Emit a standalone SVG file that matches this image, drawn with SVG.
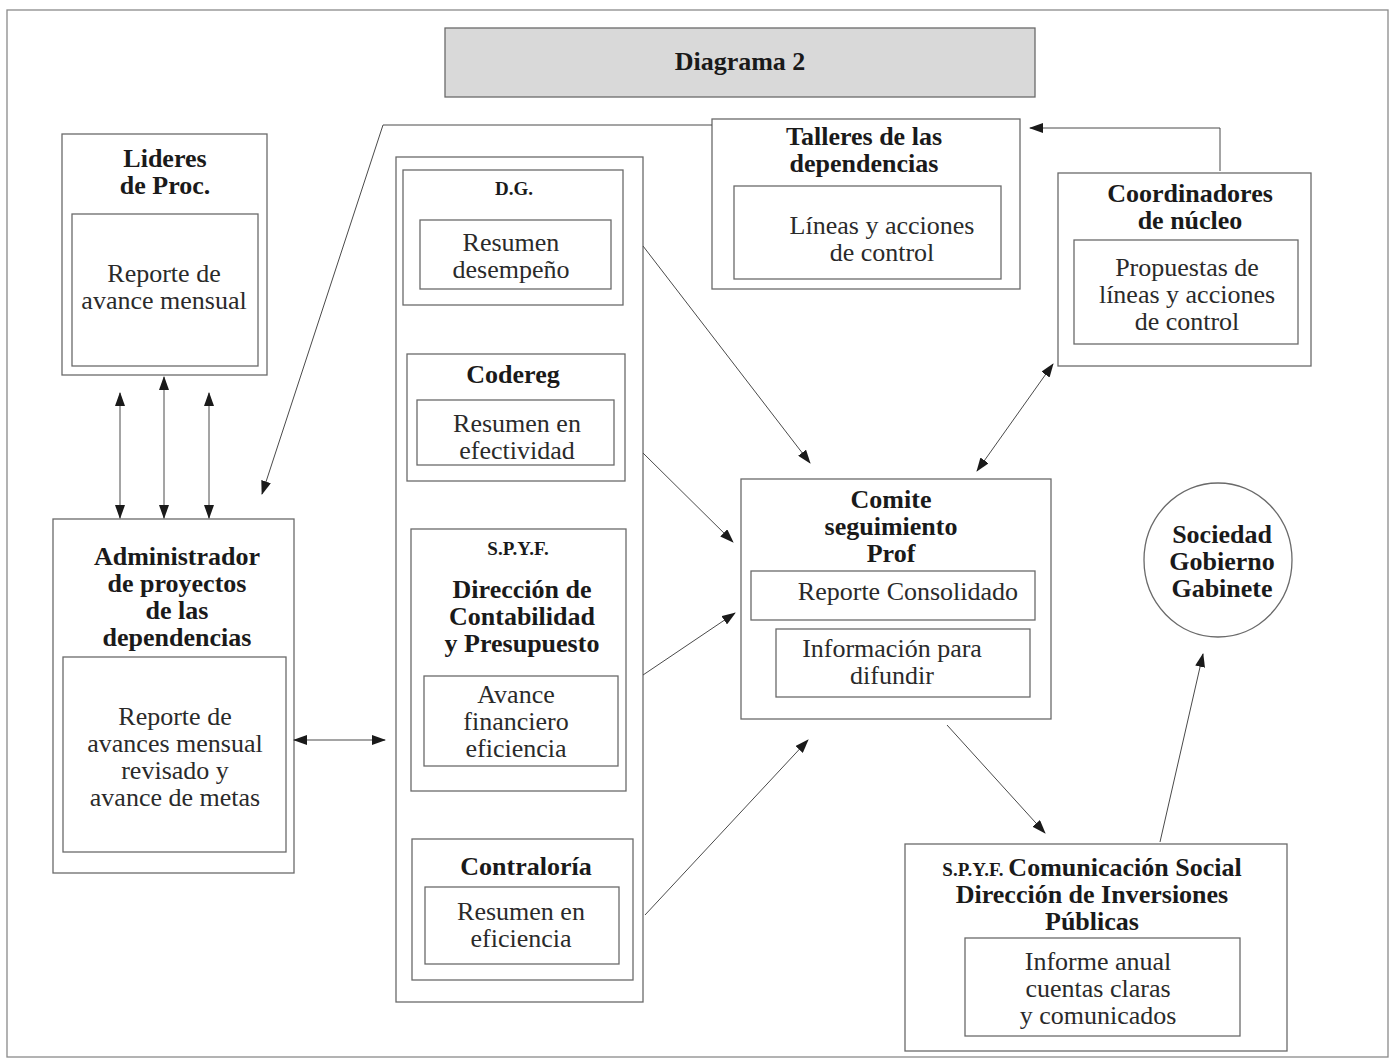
<svg xmlns="http://www.w3.org/2000/svg" width="1392" height="1062" viewBox="0 0 1392 1062">
<defs>
<marker id="ah" markerWidth="14" markerHeight="10" refX="13" refY="5" orient="auto-start-reverse" markerUnits="userSpaceOnUse">
<path d="M0,0 L14,5 L0,10 z" fill="#1a1a1a"/>
</marker>
<style>
.box{fill:none;stroke:#6a6a6a;stroke-width:1.3}
.t{font-family:"Liberation Serif","Times New Roman",serif;font-size:26px;fill:#2a2a2a;text-anchor:middle}
.b{font-family:"Liberation Serif","Times New Roman",serif;font-size:26px;font-weight:bold;fill:#1a1a1a;text-anchor:middle}
.s{font-family:"Liberation Serif","Times New Roman",serif;font-size:19px;font-weight:bold;fill:#1a1a1a;text-anchor:middle}
.c{fill:none;stroke:#4a4a4a;stroke-width:1}
</style>
</defs>
<rect x="0" y="0" width="1392" height="1062" fill="#ffffff"/>
<rect x="7" y="10" width="1381" height="1047" fill="none" stroke="#8a8a8a" stroke-width="1.3"/>

<g id="title">
<rect x="445" y="28" width="590" height="69" fill="#d9d9d9" stroke="#6a6a6a" stroke-width="1.3"/>
<text class="b" x="740" y="70">Diagrama 2</text>
</g>

<g id="lideres">
<rect class="box" x="62" y="134" width="205" height="241"/>
<rect class="box" x="72" y="214" width="186" height="152"/>
<text class="b" x="165" y="167">Lideres</text>
<text class="b" x="165" y="194">de Proc.</text>
<text class="t" x="164" y="282">Reporte de</text>
<text class="t" x="164" y="309">avance mensual</text>
</g>

<g id="administrador">
<rect class="box" x="53" y="519" width="241" height="354"/>
<rect class="box" x="63" y="657" width="223" height="195"/>
<text class="b" x="177" y="565">Administrador</text>
<text class="b" x="177" y="592">de proyectos</text>
<text class="b" x="177" y="619">de las</text>
<text class="b" x="177" y="646">dependencias</text>
<text class="t" x="175" y="725">Reporte de</text>
<text class="t" x="175" y="752">avances mensual</text>
<text class="t" x="175" y="779">revisado y</text>
<text class="t" x="175" y="806">avance de metas</text>
</g>

<g id="columna">
<rect class="box" x="396" y="157" width="247" height="845"/>
</g>

<g id="dg">
<rect class="box" x="403" y="170" width="220" height="135"/>
<rect class="box" x="420" y="220" width="191" height="69"/>
<text class="s" x="514" y="195">D.G.</text>
<text class="t" x="511" y="251">Resumen</text>
<text class="t" x="511" y="278">desempeño</text>
</g>

<g id="codereg">
<rect class="box" x="407" y="354" width="218" height="127"/>
<rect class="box" x="417" y="400" width="197" height="65"/>
<text class="b" x="513" y="383">Codereg</text>
<text class="t" x="517" y="432">Resumen en</text>
<text class="t" x="517" y="459">efectividad</text>
</g>

<g id="spyf-contabilidad">
<rect class="box" x="411" y="529" width="215" height="262"/>
<rect class="box" x="424" y="676" width="194" height="90"/>
<text class="s" x="518" y="555">S.P.Y.F.</text>
<text class="b" x="522" y="598">Dirección de</text>
<text class="b" x="522" y="625">Contabilidad</text>
<text class="b" x="522" y="652">y Presupuesto</text>
<text class="t" x="516" y="703">Avance</text>
<text class="t" x="516" y="730">financiero</text>
<text class="t" x="516" y="757">eficiencia</text>
</g>

<g id="contraloria">
<rect class="box" x="412" y="839" width="221" height="141"/>
<rect class="box" x="425" y="887" width="194" height="77"/>
<text class="b" x="526" y="875">Contraloría</text>
<text class="t" x="521" y="920">Resumen en</text>
<text class="t" x="521" y="947">eficiencia</text>
</g>

<g id="talleres">
<rect class="box" x="712" y="119" width="308" height="170"/>
<rect class="box" x="734" y="186" width="267" height="93"/>
<text class="b" x="864" y="145">Talleres de las</text>
<text class="b" x="864" y="172">dependencias</text>
<text class="t" x="882" y="234">Líneas y acciones</text>
<text class="t" x="882" y="261">de control</text>
</g>

<g id="coordinadores">
<rect class="box" x="1058" y="173" width="253" height="193"/>
<rect class="box" x="1074" y="240" width="224" height="104"/>
<text class="b" x="1190" y="202">Coordinadores</text>
<text class="b" x="1190" y="229">de núcleo</text>
<text class="t" x="1187" y="276">Propuestas de</text>
<text class="t" x="1187" y="303">líneas y acciones</text>
<text class="t" x="1187" y="330">de control</text>
</g>

<g id="comite">
<rect class="box" x="741" y="479" width="310" height="240"/>
<rect class="box" x="751" y="571" width="284" height="49"/>
<rect class="box" x="776" y="629" width="254" height="68"/>
<text class="b" x="891" y="508">Comite</text>
<text class="b" x="891" y="535">seguimiento</text>
<text class="b" x="891" y="562">Prof</text>
<text class="t" x="908" y="600">Reporte Consolidado</text>
<text class="t" x="892" y="657">Información para</text>
<text class="t" x="892" y="684">difundir</text>
</g>

<g id="sociedad">
<ellipse cx="1218" cy="560" rx="74" ry="77" fill="none" stroke="#6a6a6a" stroke-width="1.3"/>
<text class="b" x="1222" y="543">Sociedad</text>
<text class="b" x="1222" y="570">Gobierno</text>
<text class="b" x="1222" y="597">Gabinete</text>
</g>

<g id="spyf-comunicacion">
<rect class="box" x="905" y="844" width="382" height="207"/>
<rect class="box" x="965" y="938" width="275" height="98"/>
<text class="b" x="1092" y="876"><tspan style="font-size:19px">S.P.Y.F. </tspan>Comunicación Social</text>
<text class="b" x="1092" y="903">Dirección de Inversiones</text>
<text class="b" x="1092" y="930">Públicas</text>
<text class="t" x="1098" y="970">Informe anual</text>
<text class="t" x="1098" y="997">cuentas claras</text>
<text class="t" x="1098" y="1024">y comunicados</text>
</g>

<g id="connectors">
<line class="c" x1="120" y1="393" x2="120" y2="518" marker-start="url(#ah)" marker-end="url(#ah)"/>
<line class="c" x1="164" y1="377" x2="164" y2="518" marker-start="url(#ah)" marker-end="url(#ah)"/>
<line class="c" x1="209" y1="393" x2="209" y2="518" marker-start="url(#ah)" marker-end="url(#ah)"/>
<line class="c" x1="294" y1="740" x2="385" y2="740" marker-start="url(#ah)" marker-end="url(#ah)"/>
<polyline class="c" points="712,125 383,125 262,494" marker-end="url(#ah)"/>
<polyline class="c" points="1220,171 1220,128 1030,128" marker-end="url(#ah)"/>
<line class="c" x1="643" y1="246" x2="810" y2="463" marker-end="url(#ah)"/>
<line class="c" x1="643" y1="453" x2="733" y2="542" marker-end="url(#ah)"/>
<line class="c" x1="643" y1="675" x2="735" y2="613" marker-end="url(#ah)"/>
<line class="c" x1="645" y1="915" x2="808" y2="740" marker-end="url(#ah)"/>
<line class="c" x1="977" y1="471" x2="1053" y2="364" marker-start="url(#ah)" marker-end="url(#ah)"/>
<line class="c" x1="947" y1="725" x2="1045" y2="833" marker-end="url(#ah)"/>
<line class="c" x1="1160" y1="842" x2="1203" y2="654" marker-end="url(#ah)"/>
</g>
</svg>
